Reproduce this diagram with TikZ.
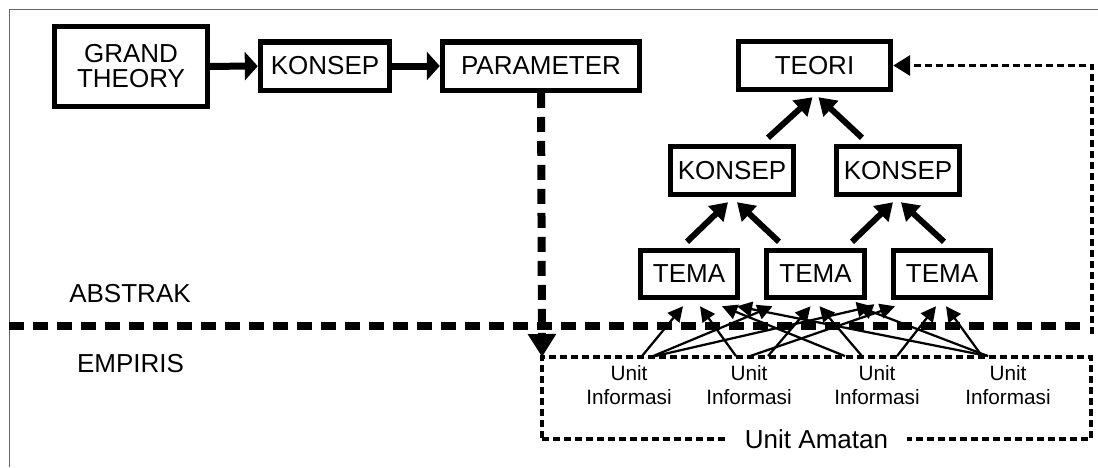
\documentclass[tikz,border=0pt]{standalone}
\usepackage{fontspec}
\setmainfont{Liberation Sans}
\usetikzlibrary{arrows.meta,positioning,calc}

\begin{document}
\begin{tikzpicture}[
  x=0.02cm, y=-0.02cm,
  box/.style={rectangle, draw=black, line width=0.11cm, fill=white, inner sep=0pt, minimum height=0.97cm, font=\fontsize{14.8}{14.2}\selectfont, align=center},
  lbl/.style={inner sep=0pt, font=\fontsize{14.8}{14.2}\selectfont},
  unitinfo/.style={inner sep=0pt, align=center, font=\fontsize{11.8}{13.6}\selectfont},
  amatbox/.style={rectangle, draw=black, line width=0.07cm, dash pattern=on 0.14cm off 0.08cm, outer sep=0pt, minimum width=10.98cm, minimum height=1.64cm},
  flow/.style={-{Triangle[length=0.26cm, width=0.56cm]}, line width=0.14cm},
  upar/.style={-{Triangle[length=0.34cm, width=0.42cm]}, line width=0.12cm},
  unitlink/.style={-{Triangle[length=0.3cm, width=0.3cm]}, line width=0.045cm},
  bigdash/.style={line width=0.16cm, dash pattern=on 0.3cm off 0.18cm},
  smalldash/.style={line width=0.07cm, dash pattern=on 0.14cm off 0.08cm},
  frameline/.style={draw=black!60, line width=0.03cm}
]
\useasboundingbox (0,0) rectangle (1098,467);
\draw[frameline] (9.5,467) -- (9.5,9.5) -- (1098,9.5);

\node[box, minimum width=3.06cm, minimum height=1.6cm] (grand) at (131,66.5) {GRAND\\THEORY};
\node[box, minimum width=2.58cm] (konA) at (325,66) {KONSEP};
\node[box, minimum width=3.94cm] (param) at (541,66) {PARAMETER};
\node[box, minimum width=3.04cm, minimum height=0.96cm] (teori) at (814.5,65.5) {TEORI};
\node[box, minimum width=2.46cm, minimum height=0.96cm] (konB) at (732,170.5) {KONSEP};
\node[box, minimum width=2.46cm, minimum height=0.96cm] (konC) at (898,170.5) {KONSEP};
\node[box, minimum width=1.94cm, minimum height=0.94cm] (tema1) at (689,274) {TEMA};
\node[box, minimum width=1.96cm, minimum height=0.94cm] (tema2) at (815.5,274) {TEMA};
\node[box, minimum width=1.94cm, minimum height=0.94cm] (tema3) at (942,274) {TEMA};

\node[lbl] (abstrak) at (130,294) {ABSTRAK};
\node[lbl] (empiris) at (130.5,364) {EMPIRIS};
\draw[bigdash] (9,326) -- (1086,326);

\node[amatbox] (amatan) at (816.5,398) {};
\node[lbl, fill=white, inner xsep=0.38cm, inner ysep=0.1cm] (amatanlbl) at (amatan.south) {Unit Amatan};
\node[unitinfo] (u1) at (629,385) {Unit\\Informasi};
\node[unitinfo] (u2) at (749,385) {Unit\\Informasi};
\node[unitinfo] (u3) at (877,385) {Unit\\Informasi};
\node[unitinfo] (u4) at (1008,385) {Unit\\Informasi};

\draw[flow] (grand) -- (konA);
\draw[flow] (konA) -- (param);
\draw[bigdash, -{Triangle[length=0.46cm, width=0.54cm]}] (param.south) -- (amatan.north west);

\draw[upar] ($(tema1.north)+(-2,-6)$) -- ($(konB.south)+(-4,5)$);
\draw[upar] ($(tema2.north)+(-36.5,-6)$) -- ($(konB.south)+(5,5)$);
\draw[upar] ($(tema2.north)+(36.5,-6)$) -- ($(konC.south)+(-5,5)$);
\draw[upar] ($(tema3.north)+(2,-6)$) -- ($(konC.south)+(3,5)$);
\draw[upar] ($(konB.north)+(36,-6)$) -- ($(teori.south)+(-2,5)$);
\draw[upar] ($(konC.north)+(-36,-6)$) -- ($(teori.south)+(4,5)$);

\foreach \u/\a/\t/\b in {u1/13/tema1/-6, u1/24/tema2/-43, u1/26/tema3/-70,
                         u2/-13/tema1/11, u2/19/tema2/-5, u2/1/tema3/-47,
                         u3/-32/tema1/33, u3/-15/tema2/4, u3/20/tema3/-6,
                         u4/-20/tema1/48, u4/-20/tema2/42, u4/-26/tema3/4}
  \draw[unitlink] ($(\u.north)+(\a,-9)$) -- ($(\t.south)+(\b,6)$);

\coordinate (fb) at (1092,334);
\draw[smalldash, -{Triangle[length=0.34cm, width=0.4cm]}] (fb) |- (teori.east);
\end{tikzpicture}
\end{document}
